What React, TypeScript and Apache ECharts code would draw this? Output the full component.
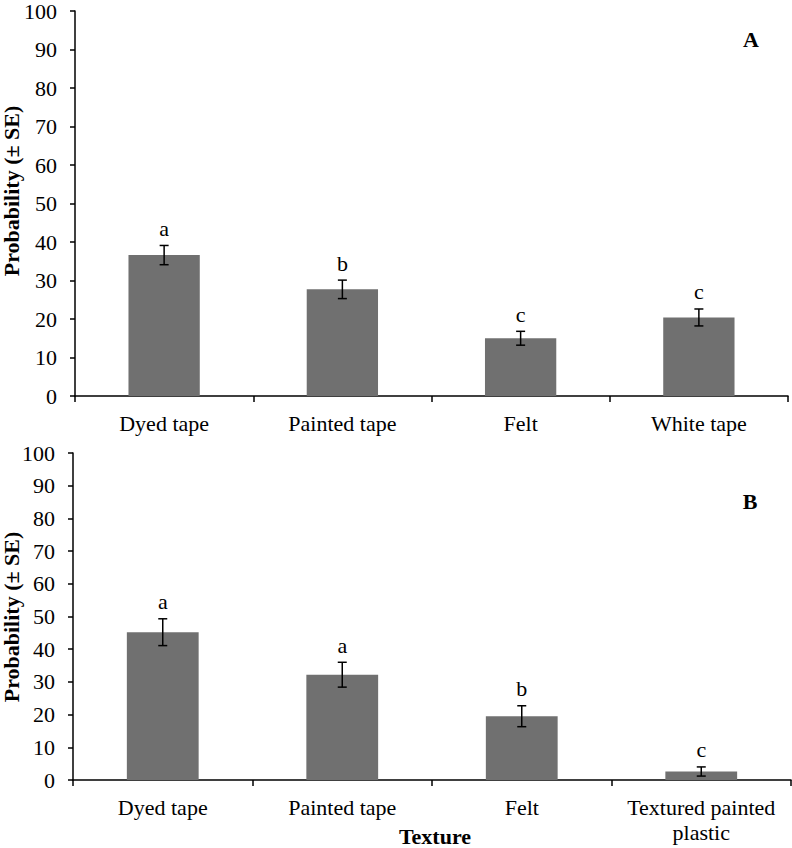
import React, { useEffect, useRef } from "react";
import * as echarts from "echarts";

const categoriesA = ["Dyed tape", "Painted tape", "Felt", "White tape"];
const meansA = [36.6, 27.7, 15.0, 20.4];
const seA = [2.5, 2.4, 1.8, 2.2];
const lettersA = ["a", "b", "c", "c"];

const categoriesB = ["Dyed tape", "Painted tape", "Felt", "Textured painted\nplastic"];
const meansB = [45.2, 32.2, 19.5, 2.6];
const seB = [4.1, 3.8, 3.2, 1.4];
const lettersB = ["a", "a", "b", "c"];

const yMin = 0;
const yMax = 100;
const yInterval = 10;

const FONT = "'Liberation Serif', 'Times New Roman', serif";
const BAR_COLOR = "#707070";

function errorRenderer(letters: string[]) {
  return (params: any, api: any) => {
    const x = api.value(0);
    const m = api.value(1);
    const se = api.value(2);
    const hi = api.coord([x, m + se]);
    const lo = api.coord([x, m - se]);
    const cap = 4.5;
    const st = { stroke: "#000", lineWidth: 1.5 };
    return {
      type: "group",
      children: [
        { type: "line", shape: { x1: hi[0], y1: hi[1], x2: lo[0], y2: lo[1] }, style: st },
        { type: "line", shape: { x1: hi[0] - cap, y1: hi[1], x2: hi[0] + cap, y2: hi[1] }, style: st },
        { type: "line", shape: { x1: lo[0] - cap, y1: lo[1], x2: lo[0] + cap, y2: lo[1] }, style: st },
        {
          type: "text",
          x: hi[0],
          y: hi[1] - 6,
          style: {
            text: letters[params.dataIndex],
            fontFamily: FONT,
            fontSize: 22,
            fill: "#000",
            align: "center",
            verticalAlign: "bottom",
          },
        },
      ],
    };
  };
}

export default function App() {
  const ref = useRef<HTMLDivElement>(null);
  useEffect(() => {
    if (!ref.current) return;
    const chart = echarts.init(ref.current, null, { renderer: "svg" });
    const axisLine = { lineStyle: { color: "#000", width: 1.5 } };
    const xAxisCommon = {
      type: "category",
      axisLine,
      axisTick: { show: true, length: 6, lineStyle: { color: "#000", width: 1.5 } },
      axisLabel: {
        color: "#000",
        fontFamily: FONT,
        fontSize: 22,
        margin: 15,
        lineHeight: 25,
        interval: 0,
      },
    };
    const yAxisCommon = {
      type: "value",
      min: yMin,
      max: yMax,
      interval: yInterval,
      axisLine: { show: true, ...axisLine },
      axisTick: { show: true, length: 5, lineStyle: { color: "#000", width: 1.5 } },
      axisLabel: { color: "#000", fontFamily: FONT, fontSize: 22, margin: 18 },
      splitLine: { show: false },
    };
    chart.setOption({
      animation: false,
      backgroundColor: "#fff",
      grid: [
        { left: 75, top: 8, right: 4, height: 388 },
        { left: 73, top: 453, right: 1, height: 327 },
      ],
      xAxis: [
        { ...xAxisCommon, gridIndex: 0, data: categoriesA },
        { ...xAxisCommon, gridIndex: 1, data: categoriesB },
      ],
      yAxis: [
        { ...yAxisCommon, gridIndex: 0 },
        { ...yAxisCommon, gridIndex: 1 },
      ],
      series: [
        {
          type: "bar",
          xAxisIndex: 0,
          yAxisIndex: 0,
          data: meansA,
          barWidth: "40%",
          itemStyle: { color: BAR_COLOR },
        },
        {
          type: "custom",
          xAxisIndex: 0,
          yAxisIndex: 0,
          data: meansA.map((m, i) => [i, m, seA[i]]),
          renderItem: errorRenderer(lettersA),
          z: 5,
        },
        {
          type: "bar",
          xAxisIndex: 1,
          yAxisIndex: 1,
          data: meansB,
          barWidth: "40%",
          itemStyle: { color: BAR_COLOR },
        },
        {
          type: "custom",
          xAxisIndex: 1,
          yAxisIndex: 1,
          data: meansB.map((m, i) => [i, m, seB[i]]),
          renderItem: errorRenderer(lettersB),
          z: 5,
        },
      ],
      graphic: [
        {
          type: "text",
          x: 11,
          y: 191,
          rotation: Math.PI / 2,
          style: {
            text: "Probability (± SE)",
            fontFamily: FONT,
            fontSize: 22,
            fontWeight: "bold",
            fill: "#000",
            align: "center",
            verticalAlign: "middle",
          },
        },
        {
          type: "text",
          x: 11,
          y: 617,
          rotation: Math.PI / 2,
          style: {
            text: "Probability (± SE)",
            fontFamily: FONT,
            fontSize: 22,
            fontWeight: "bold",
            fill: "#000",
            align: "center",
            verticalAlign: "middle",
          },
        },
        {
          type: "text",
          x: 751,
          y: 39,
          style: {
            text: "A",
            fontFamily: FONT,
            fontSize: 22,
            fontWeight: "bold",
            fill: "#000",
            align: "center",
            verticalAlign: "middle",
          },
        },
        {
          type: "text",
          x: 750,
          y: 501,
          style: {
            text: "B",
            fontFamily: FONT,
            fontSize: 22,
            fontWeight: "bold",
            fill: "#000",
            align: "center",
            verticalAlign: "middle",
          },
        },
        {
          type: "text",
          x: 435,
          y: 836,
          style: {
            text: "Texture",
            fontFamily: FONT,
            fontSize: 22,
            fontWeight: "bold",
            fill: "#000",
            align: "center",
            verticalAlign: "middle",
          },
        },
      ],
    });
    return () => chart.dispose();
  }, []);
  return (
    <div
      ref={ref}
      style={{ position: "absolute", left: 0, top: 0, width: 792, height: 848 }}
    />
  );
}
